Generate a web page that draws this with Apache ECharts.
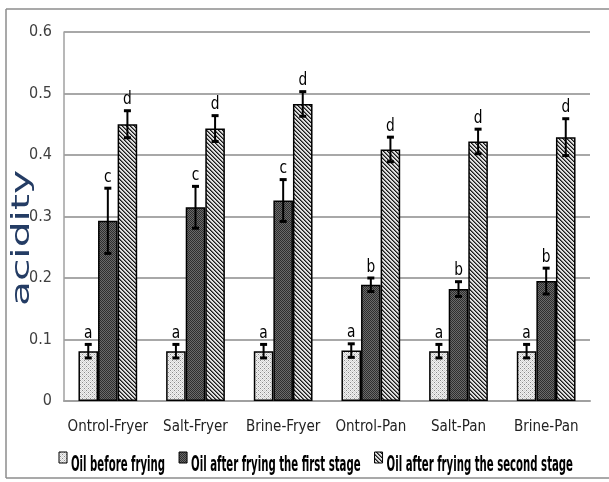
<!DOCTYPE html>
<html>
<head>
<meta charset="utf-8">
<script src="https://cdn.jsdelivr.net/npm/echarts@6/dist/echarts.min.js"></script>
<style>html,body{margin:0;padding:0;background:#fff;overflow:hidden}#c{width:609px;height:482px}</style>
</head>
<body>
<div id="c"></div>
<script>
const categories = ['Ontrol-Fryer', 'Salt-Fryer', 'Brine-Fryer', 'Ontrol-Pan', 'Salt-Pan', 'Brine-Pan'];
const seriesNames = ['Oil before frying', 'Oil after frying the first stage', 'Oil after frying the second stage'];
const beforeVals = [0.081, 0.081, 0.081, 0.082, 0.081, 0.081];
const beforeErr = [0.011, 0.011, 0.011, 0.011, 0.011, 0.011];
const beforeLetters = ['a', 'a', 'a', 'a', 'a', 'a'];
const firstVals = [0.293, 0.315, 0.326, 0.189, 0.182, 0.195];
const firstErr = [0.053, 0.034, 0.034, 0.011, 0.012, 0.021];
const firstLetters = ['c', 'c', 'c', 'b', 'b', 'b'];
const secondVals = [0.450, 0.443, 0.483, 0.409, 0.422, 0.429];
const secondErr = [0.022, 0.021, 0.020, 0.020, 0.020, 0.030];
const secondLetters = ['d', 'd', 'd', 'd', 'd', 'd'];
const yTicks = ['0', '0.1', '0.2', '0.3', '0.4', '0.5', '0.6'];
const yAxisTitle = 'acidity';

const COND = '"DejaVu Sans Condensed", "DejaVu Sans", sans-serif';

function makePattern(w, h, fn) {
  const cv = document.createElement('canvas');
  cv.width = w; cv.height = h;
  const ctx = cv.getContext('2d');
  for (let y = 0; y < h; y++) for (let x = 0; x < w; x++) {
    ctx.fillStyle = fn(x, y);
    ctx.fillRect(x, y, 1, 1);
  }
  return { image: cv, repeat: 'repeat' };
}
const dotPattern = makePattern(4, 4, (x, y) => ((x % 2 === 0 && y % 2 === 0 && ((x + y) % 4 === 0)) ? '#8a8a8a' : ((x + y) % 2 === 0 ? '#d2d2d2' : '#f2f2f2')));
const checkPattern = makePattern(2, 2, (x, y) => ((x + y) % 2 === 0 ? '#2e2e2e' : '#6a6a6a'));
const stripePattern = makePattern(4, 4, (x, y) => {
  const m = ((x - y) % 4 + 4) % 4;
  return m === 0 ? '#1a1a1a' : (m === 1 ? '#707070' : '#e0e0e0');
});

const patterns = [dotPattern, checkPattern, stripePattern];
const valsAll = [beforeVals, firstVals, secondVals];
const errAll = [beforeErr, firstErr, secondErr];
const lettersAll = [beforeLetters, firstLetters, secondLetters];
const CAT_GAP = 0.33;

const series = [];
for (let k = 0; k < 3; k++) {
  series.push({
    name: seriesNames[k],
    type: 'bar',
    data: valsAll[k],
    barGap: '0%',
    barCategoryGap: '33%',
    itemStyle: { color: patterns[k], borderColor: '#000', borderWidth: 1.5 },
    emphasis: { disabled: true },
    z: 2
  });
}
for (let k = 0; k < 3; k++) {
  const vals = valsAll[k], errs = errAll[k], letters = lettersAll[k];
  series.push({
    type: 'custom',
    name: 'err' + k,
    data: vals.map((v, i) => [i, v, errs[i]]),
    encode: { x: 0, y: 1 },
    z: 5,
    silent: true,
    renderItem: function (params, api) {
      const xi = api.value(0), v = api.value(1), e = api.value(2);
      const band = api.size([1, 0])[0];
      const barW = band * (1 - CAT_GAP) / 3;
      const off = (k - 1) * barW;
      const top = api.coord([xi, v + e]);
      const bot = api.coord([xi, v - e]);
      const cx = top[0] + off;
      return {
        type: 'group',
        children: [
          { type: 'line', shape: { x1: cx, y1: top[1], x2: cx, y2: bot[1] }, style: { stroke: '#000', lineWidth: 2 } },
          { type: 'rect', shape: { x: cx - 3.5, y: top[1] - 1.5, width: 7, height: 3 }, style: { fill: '#000' } },
          { type: 'rect', shape: { x: cx - 3.5, y: bot[1] - 1.5, width: 7, height: 3 }, style: { fill: '#000' } },
          { type: 'text', x: cx, y: top[1] - 2, scaleX: 0.85, style: { text: letters[params.dataIndex], fill: '#000', font: '18px ' + COND, align: 'center', verticalAlign: 'bottom' } }
        ]
      };
    }
  });
}

// legend drawn as graphic so the compressed bold text can be reproduced
const LEG_FONT = 'bold 22px ' + COND;
const mctx = document.createElement('canvas').getContext('2d');
mctx.font = LEG_FONT;
const rawW = seriesNames.map(s => mctx.measureText(s).width);
const LEG_LEFT = 59, LEG_RIGHT = 573, ICON_W = 8, ICON_GAP = 4, ITEM_GAP = 14;
const legScale = (LEG_RIGHT - LEG_LEFT - 3 * (ICON_W + ICON_GAP) - 2 * ITEM_GAP) / rawW.reduce((a, b) => a + b, 0);
const legendGraphics = [];
let lx = LEG_LEFT;
for (let k = 0; k < 3; k++) {
  legendGraphics.push({ type: 'rect', shape: { x: lx, y: 452, width: ICON_W, height: 11 }, style: { fill: patterns[k], stroke: '#000', lineWidth: 1 }, silent: true });
  const tx = lx + ICON_W + ICON_GAP;
  legendGraphics.push({ type: 'text', x: tx, y: 465, scaleX: legScale, style: { text: seriesNames[k], fill: '#000', font: LEG_FONT, align: 'left', verticalAlign: 'middle' }, silent: true });
  lx = tx + rawW[k] * legScale + ITEM_GAP;
}

const chart = echarts.init(document.getElementById('c'), null, { renderer: 'canvas' });
chart.setOption({
  animation: false,
  backgroundColor: '#fff',
  grid: { left: 64, right: 19, top: 32, bottom: 81, containLabel: false },
  xAxis: {
    type: 'category',
    data: categories,
    axisTick: { show: false },
    axisLine: { lineStyle: { color: '#a0a0a0', width: 2 } },
    axisLabel: { interval: 0, color: '#222', fontFamily: COND, fontSize: 15, margin: 19 }
  },
  yAxis: {
    type: 'value',
    min: 0, max: 0.6, interval: 0.1,
    axisLine: { show: true, lineStyle: { color: '#a0a0a0', width: 1.5 } },
    axisTick: { show: false },
    splitLine: { lineStyle: { color: '#a8a8a8', width: 2 } },
    axisLabel: {
      color: '#404040', fontFamily: COND, fontSize: 16, margin: 12,
      formatter: function (val) { return yTicks[Math.round(val * 10)]; }
    }
  },
  graphic: [
    { type: 'line', shape: { x1: 6, y1: 9, x2: 609, y2: 9 }, style: { stroke: '#8c8c8c', lineWidth: 1.5 }, silent: true },
    { type: 'line', shape: { x1: 6, y1: 9, x2: 6, y2: 478 }, style: { stroke: '#8c8c8c', lineWidth: 1.5 }, silent: true },
    { type: 'line', shape: { x1: 6, y1: 478, x2: 609, y2: 478 }, style: { stroke: '#8c8c8c', lineWidth: 1.5 }, silent: true },
    { type: 'text', x: 23, y: 238, rotation: Math.PI / 2, scaleX: 1.7, scaleY: 1,
      style: { text: yAxisTitle, fill: '#243c64', font: '24px "DejaVu Sans", sans-serif', align: 'center', verticalAlign: 'middle' }, silent: true }
  ].concat(legendGraphics),
  series: series
});
</script>
</body>
</html>
